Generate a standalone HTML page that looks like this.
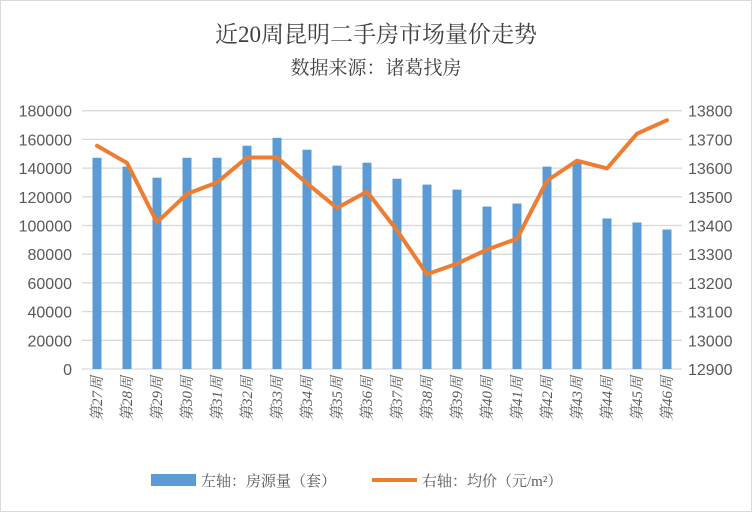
<!DOCTYPE html>
<html><head><meta charset="utf-8">
<style>
body{margin:0;background:#fff;}
#wrap{position:relative;width:752px;height:512px;overflow:hidden;}
svg text{font-family:"Liberation Sans","Noto Sans CJK SC",sans-serif;}
</style></head>
<body>
<div id="wrap">
<svg id="chart" width="752" height="512" xmlns="http://www.w3.org/2000/svg">
<rect x="0.5" y="0.5" width="751" height="511" fill="#fff" stroke="#d9d9d9"/>
<text x="376" y="42" text-anchor="middle" font-size="23" fill="#404040" style='font-family:"Liberation Serif","Noto Serif CJK SC",serif'>近20周昆明二手房市场量价走势</text>
<text x="376" y="74" text-anchor="middle" font-size="19" fill="#404040" style='font-family:"Liberation Serif","Noto Serif CJK SC",serif'>数据来源：诸葛找房</text>
<g id="grid"></g><g id="bars"></g><g id="line"></g><g id="axes"></g>
<g>
<rect x="151" y="474" width="45" height="12" fill="#5b9bd5"/>
<text x="201" y="486" font-size="15" fill="#595959" style='font-family:"Liberation Serif","Noto Serif CJK SC",serif'>左轴：房源量（套）</text>
<line x1="372" y1="480" x2="417" y2="480" stroke="#ed7d31" stroke-width="4"/>
<text x="422" y="486" font-size="15" fill="#595959" style='font-family:"Liberation Serif","Noto Serif CJK SC",serif'>右轴：均价（元/m²）</text>
</g>
</svg></div>
<script>
const categories=["第27周","第28周","第29周","第30周","第31周","第32周","第33周","第34周","第35周","第36周","第37周","第38周","第39周","第40周","第41周","第42周","第43周","第44周","第45周","第46周"];
const listings=[147200,141000,133300,147200,147200,155600,161100,152800,141700,143750,132600,128500,125000,113200,115300,141000,144000,104900,102100,97200];
const prices=[13678,13618,13411,13510,13550,13637,13637,13547,13461,13518,13383,13230,13267,13316,13354,13556,13626,13599,13720,13767];
const leftTicks=[0,20000,40000,60000,80000,100000,120000,140000,160000,180000];
const rightTicks=[12900,13000,13100,13200,13300,13400,13500,13600,13700,13800];
const NS="http://www.w3.org/2000/svg";
const L=82,R=682,T=110.7,B=369;
const yL=v=>B-(v-0)/(180000)*(B-T);
const yR=v=>B-(v-12900)/(900)*(B-T);
const bw=(R-L)/categories.length;
const xC=i=>L+bw*(i+0.5);
function mk(tag,attrs,parent){const e=document.createElementNS(NS,tag);for(const k in attrs)e.setAttribute(k,attrs[k]);parent.appendChild(e);return e;}
const g=document.getElementById('grid'),gb=document.getElementById('bars'),gl=document.getElementById('line'),ga=document.getElementById('axes');
leftTicks.forEach((v,i)=>{
 const y=yL(v);
 const ln=mk('line',{x1:L,x2:R,y1:y,y2:y,stroke:'#d9d9d9','stroke-width':1.3},g);
 
 
 const t=mk('text',{x:72,y:y+6,'text-anchor':'end','font-size':16,fill:'#595959'},ga);
 t.textContent=v;
 
 
});
rightTicks.forEach(v=>{
 const t=mk('text',{x:688,y:yR(v)+6,'font-size':16,fill:'#595959'},ga);
 t.textContent=v;
 
 
});
listings.forEach((v,i)=>{
 const r=mk('rect',{x:xC(i)-4.5,y:yL(v),width:9,height:B-yL(v),fill:'#5b9bd5'},gb);
 
 
});
const pts=prices.map((v,i)=>xC(i)+','+yR(v)).join(' ');
const pl=mk('polyline',{points:pts,fill:'none',stroke:'#ed7d31','stroke-width':4,'stroke-linejoin':'round','stroke-linecap':'round'},gl);


categories.forEach((c,i)=>{
 const x=xC(i)+5,y=376;
 const t=mk('text',{x:x,y:y,'text-anchor':'end','font-size':15,fill:'#595959',transform:`rotate(-90 ${x} ${y})`,style:'font-family:"Liberation Serif","Noto Serif CJK SC",serif;font-style:italic'},ga);
 t.textContent=c;
 
 
});
</script>
</body></html>
